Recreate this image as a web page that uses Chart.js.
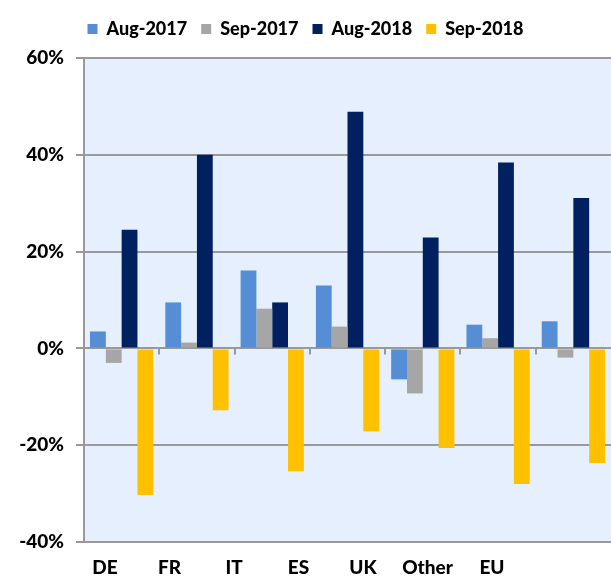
<!DOCTYPE html>
<html>
<head>
<meta charset="utf-8">
<script src="https://cdn.jsdelivr.net/npm/chart.js@4.4.1/dist/chart.umd.min.js"></script>
<style>
  html, body { margin: 0; padding: 0; background: #fff; }
  #wrap { width: 611px; height: 583px; position: relative; }
</style>
</head>
<body>
<div id="wrap"><canvas id="chart"></canvas></div>
<script>
// categorias e series
const categories = ['DE', 'FR', 'IT', 'ES', 'UK', 'Other', 'EU'];
const aug2017 = [3.5, 9.5, 16.1, 13.0, -6.4, 4.9, 5.6];
const sep2017 = [-3.0, 1.2, 8.2, 4.5, -9.3, 2.1, -1.9];
const aug2018 = [24.5, 40.0, 9.5, 48.9, 22.9, 38.4, 31.1];
const sep2018 = [-30.3, -12.8, -25.4, -17.1, -20.6, -28.0, -23.7];
const yTicks = [60, 40, 20, 0, -20, -40];

// cores
const colorAug17 = '#558ED5';
const colorSep17 = '#A6A6A6';
const colorAug18 = '#002060';
const colorSep18 = '#FFC000';
const gridColor = '#999999';
const fontFamily = "Lato, 'DejaVu Sans', sans-serif";

// faixa do eixo dos rotulos (os rotulos ficam mais juntos que as barras)
const labelAxisMin = -0.326;
const labelAxisMax = 7.845;

const plotBackground = {
    id: 'plotBackground',
    beforeDraw: (chart) => {
        const { ctx, chartArea } = chart;
        ctx.save();
        ctx.fillStyle = '#E6EFFD';
        ctx.fillRect(chartArea.left, chartArea.top, chartArea.right - chartArea.left, chartArea.bottom - chartArea.top);
        ctx.restore();
    }
};

// espaco extra abaixo da legenda
const legendMargin = {
    id: 'legendMargin',
    beforeInit: (chart) => {
        const fit = chart.legend.fit;
        chart.legend.fit = function () {
            fit.bind(chart.legend)();
            this.height += 10;
        };
    }
};

// marcas do eixo x sobre a linha do zero
const zeroTicks = {
    id: 'zeroTicks',
    afterDatasetsDraw: (chart) => {
        const { ctx } = chart;
        const x = chart.scales.x;
        const y0 = chart.scales.y.getPixelForValue(0);
        const step = x.getPixelForValue(1) - x.getPixelForValue(0);
        ctx.save();
        ctx.strokeStyle = gridColor;
        ctx.lineWidth = 2;
        ctx.beginPath();
        for (let i = 1; i < categories.length; i++) {
            const px = Math.round(x.getPixelForValue(i) - step / 2);
            ctx.moveTo(px, y0);
            ctx.lineTo(px, y0 + 6);
        }
        ctx.stroke();
        ctx.restore();
    }
};

const mkSet = (label, data, color) => ({
    label: label,
    data: data,
    backgroundColor: color,
    borderWidth: 0,
    categoryPercentage: 0.84,
    barPercentage: 1.0
});

new Chart(document.getElementById('chart'), {
    type: 'bar',
    data: {
        labels: categories,
        datasets: [
            mkSet('Aug-2017', aug2017, colorAug17),
            mkSet('Sep-2017', sep2017, colorSep17),
            mkSet('Aug-2018', aug2018, colorAug18),
            mkSet('Sep-2018', sep2018, colorSep18)
        ]
    },
    options: {
        responsive: true,
        maintainAspectRatio: false,
        animation: false,
        layout: { padding: { top: 6, right: 0, bottom: 0, left: 0 } },
        plugins: {
            legend: {
                display: true,
                position: 'top',
                labels: {
                    boxWidth: 10,
                    boxHeight: 10,
                    padding: 14,
                    color: '#000',
                    font: { family: fontFamily, size: 18, weight: 900 }
                }
            },
            tooltip: { enabled: false }
        },
        scales: {
            x: {
                grid: { display: false, drawTicks: false },
                border: { display: false },
                ticks: { display: false },
                afterFit: (s) => { s.height = 0; }
            },
            // eixo so para os rotulos das categorias
            xLabels: {
                type: 'linear',
                position: 'bottom',
                offset: false,
                bounds: 'data',
                min: labelAxisMin,
                max: labelAxisMax,
                afterBuildTicks: (s) => {
                    s.ticks = categories.map((c, i) => ({ value: i }));
                    s.min = labelAxisMin;
                    s.max = labelAxisMax;
                },
                afterFit: (s) => { s.height = 41; },
                grid: { display: false, drawTicks: false, offset: false },
                border: { display: false },
                ticks: {
                    color: '#000',
                    padding: 14,
                    autoSkip: false,
                    maxRotation: 0,
                    font: { family: fontFamily, size: 19, weight: 900 },
                    callback: (v) => categories[v]
                }
            },
            y: {
                min: -40,
                max: 60,
                afterFit: (s) => { s.width = 84; },
                afterBuildTicks: (s) => { s.ticks = yTicks.map(v => ({ value: v })); },
                grid: { color: gridColor, lineWidth: 2, tickLength: 8, drawTicks: true },
                border: { display: true, color: gridColor, width: 2 },
                ticks: {
                    color: '#000',
                    padding: 12,
                    font: { family: fontFamily, size: 19, weight: 900 },
                    callback: (v) => v + '%'
                }
            }
        }
    },
    plugins: [plotBackground, legendMargin, zeroTicks]
});
</script>
</body>
</html>
